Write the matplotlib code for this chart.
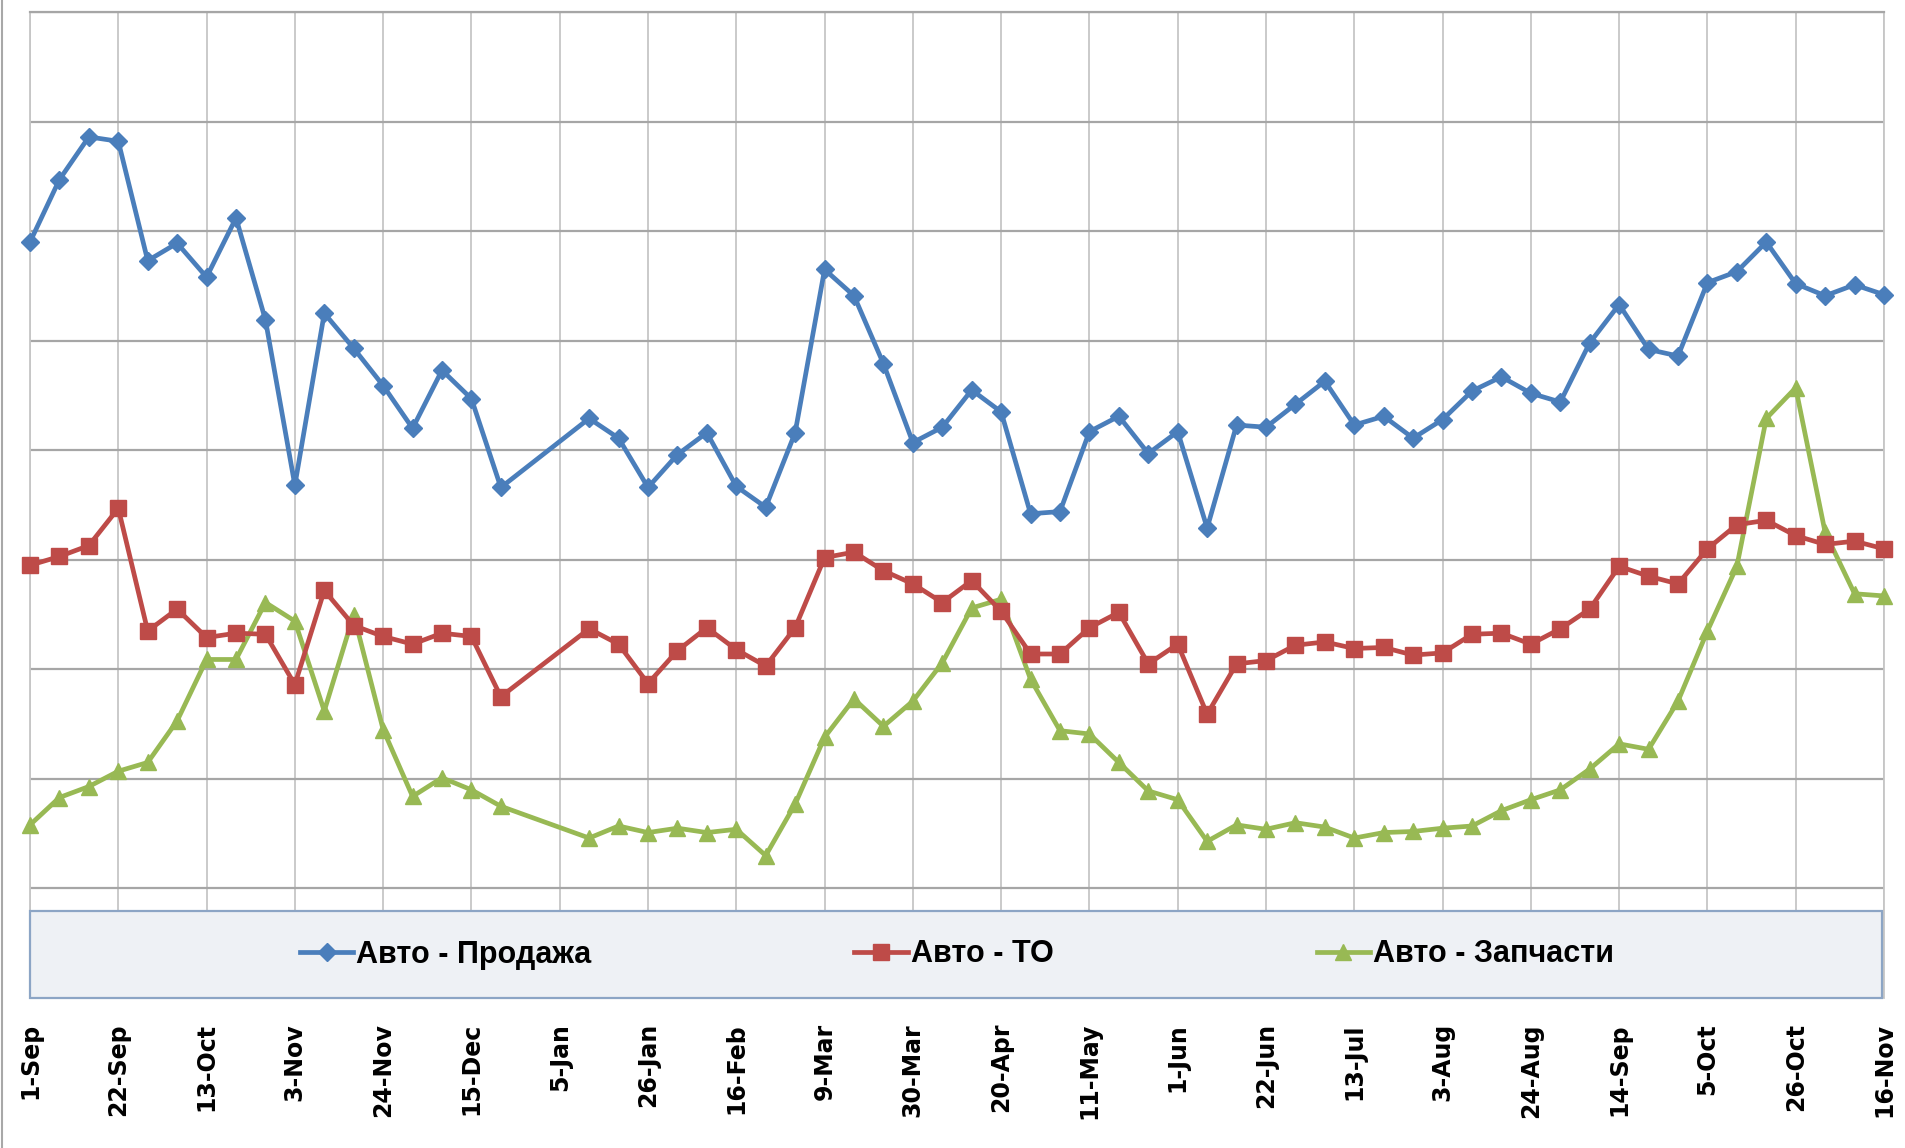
import matplotlib
matplotlib.use('Agg')
import matplotlib.pyplot as plt
from matplotlib.patches import Rectangle
from matplotlib.lines import Line2D

# week number counted from 1-Sep; 29-Dec and 5-Jan have no data
weeks = list(range(0, 17)) + list(range(19, 64))

sales = [6.90, 7.47, 7.86, 7.82, 6.73, 6.89, 6.58, 7.12, 6.19, 4.68, 6.25, 5.93, 5.59, 5.20, 5.73, 5.47, 4.66,
         5.29, 5.11, 4.66, 4.96, 5.16, 4.67, 4.48, 5.16, 6.65, 6.41, 5.79, 5.07, 5.21, 5.55, 5.35, 4.42,
         4.44, 5.17, 5.31, 4.97, 5.17, 4.29, 5.23, 5.21, 5.42, 5.63, 5.23, 5.31, 5.11, 5.28, 5.54, 5.67,
         5.52, 5.44, 5.98, 6.33, 5.92, 5.86, 6.53, 6.63, 6.90, 6.52, 6.41, 6.51, 6.42]

service = [3.95, 4.03, 4.13, 4.47, 3.35, 3.55, 3.29, 3.33, 3.32, 2.86, 3.72, 3.40, 3.30, 3.23, 3.33, 3.30, 2.75,
           3.37, 3.23, 2.87, 3.17, 3.38, 3.18, 3.03, 3.38, 4.02, 4.07, 3.90, 3.78, 3.61, 3.81, 3.53, 3.14,
           3.14, 3.38, 3.52, 3.05, 3.23, 2.59, 3.05, 3.08, 3.22, 3.25, 3.19, 3.20, 3.13, 3.15, 3.32, 3.33,
           3.23, 3.37, 3.55, 3.94, 3.85, 3.78, 4.10, 4.32, 4.36, 4.22, 4.14, 4.17, 4.10]

parts = [1.58, 1.83, 1.93, 2.07, 2.15, 2.53, 3.09, 3.09, 3.61, 3.44, 2.62, 3.50, 2.45, 1.84, 2.01, 1.90, 1.75,
         1.46, 1.57, 1.51, 1.55, 1.51, 1.54, 1.30, 1.77, 2.38, 2.73, 2.48, 2.71, 3.06, 3.56, 3.64, 2.91,
         2.44, 2.41, 2.15, 1.89, 1.81, 1.43, 1.58, 1.54, 1.60, 1.56, 1.46, 1.51, 1.52, 1.55, 1.57, 1.71,
         1.81, 1.90, 2.09, 2.32, 2.27, 2.71, 3.35, 3.94, 5.29, 5.57, 4.25, 3.69, 3.67]

tick_weeks = list(range(0, 64, 3))
tick_labels = ['1-Sep', '22-Sep', '13-Oct', '3-Nov', '24-Nov', '15-Dec', '5-Jan', '26-Jan', '16-Feb',
               '9-Mar', '30-Mar', '20-Apr', '11-May', '1-Jun', '22-Jun', '13-Jul', '3-Aug', '24-Aug',
               '14-Sep', '5-Oct', '26-Oct', '16-Nov']

W, H = 1905, 1148
fig = plt.figure(figsize=(W / 100, H / 100), dpi=100)
ax = fig.add_axes([30 / W, 1 - 998 / H, 1854 / W, 986 / H])

ax.plot(weeks, sales, color='#4A7EBB', lw=3.4, marker='D', ms=9,
        label='Авто - Продажа', zorder=6, clip_on=False)
ax.plot(weeks, service, color='#BE4B48', lw=3.4, marker='s', ms=11,
        label='Авто - ТО', zorder=5, clip_on=False)
ax.plot(weeks, parts, color='#98B954', lw=3.4, marker='^', ms=12,
        label='Авто - Запчасти', zorder=4, clip_on=False)

ax.set_xlim(0, 63)
ax.set_ylim(0, 9)
ax.set_yticks(range(0, 10))
ax.set_xticks(tick_weeks)
ax.set_xticklabels(tick_labels, rotation=90, fontsize=17, fontweight='bold',
                   family=['DejaVu Sans'])
ax.tick_params(axis='x', length=0, pad=18)
ax.tick_params(axis='y', left=False, labelleft=False)
ax.grid(axis='y', color='#A6A6A6', lw=1.6)
ax.grid(axis='x', color='#C6C6C6', lw=1.3)
ax.set_axisbelow(True)
for side in ['left', 'right']:
    ax.spines[side].set_color('#C6C6C6')
    ax.spines[side].set_linewidth(1.3)
ax.spines['top'].set_color('#A6A6A6')
ax.spines['top'].set_linewidth(1.6)
ax.spines['bottom'].set_visible(False)

# legend box sits over the bottom of the plot area
box_h = 87 / 986
ax.add_patch(Rectangle((0, 0), 0.999, box_h, transform=ax.transAxes,
                       facecolor='#EEF1F5', edgecolor='#8CA5C5', lw=1.6, zorder=7, clip_on=False))
leg = ax.legend(loc='center', bbox_to_anchor=(0.5, box_h / 2), ncol=3, frameon=False,
                prop=dict(family=['Liberation Sans', 'DejaVu Sans'], weight='bold', size=22),
                handlelength=1.75, handletextpad=0.1, columnspacing=8.6)
leg.set_zorder(8)

fig.add_artist(Line2D([2 / W, 2 / W], [0, 1], transform=fig.transFigure, color='#A8A8A8', lw=1.5))

fig.savefig('out.png', dpi=100)
